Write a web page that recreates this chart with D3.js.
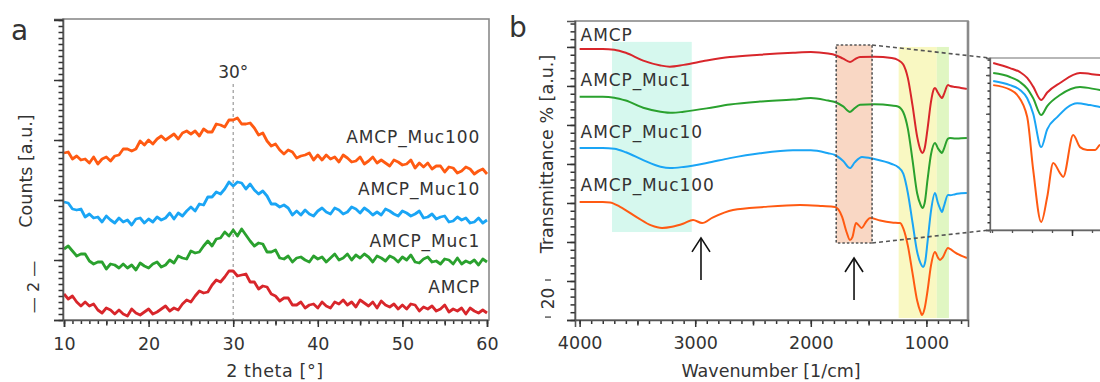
<!DOCTYPE html>
<html><head><meta charset="utf-8">
<script src="https://cdn.jsdelivr.net/npm/d3@7"></script>
<style>
body{margin:0;background:#fff}
svg{display:block}
text{font-family:"DejaVu Sans",sans-serif;fill:#333}
</style>
</head><body>
<svg id="c" width="1100" height="382"></svg>
<script>
// ---------------- DATA ----------------
// Panel a: XRD, 2 theta grid 10..60 step 0.5
const thetaGrid = d3.range(10, 60.001, 0.5);
const xrdAMCP = [26,21,24,18,14,18,14,16,10,7, 12,10,6,10,6,4,11,7,5,8, 11,6,8,11,14,9,12,10,16,20,
  18,24,29,27,28,35,40,38,43,49, 49,44,45,46,38,38,31,34,33,26, 24,19,22,22,15,15,18,12,15,16,
  12,18,14,12,18,16,20,15,18,13, 20,17,14,18,12,19,15,13,16,11, 15,11,16,15,9,13,11,14,9,11,
  15,8,11,9,12,6,12,9,7,10, 7];
const xrdMuc1 = [71,74,69,64,66,66,59,56,58,58, 51,56,55,52,56,52,55,50,57,54, 52,56,58,53,55,60,57,64,62,61,
  69,67,68,74,79,74,81,82,88,84, 90,84,91,85,79,74,77,76,68,68, 70,62,61,64,58,62,63,60,58,64,
  61,63,58,62,66,60,62,66,60,65, 62,66,63,58,64,62,59,64,62,58, 63,60,65,58,57,61,63,58,59,56,
  61,60,56,62,56,59,57,60,55,61, 58];
const xrdMuc10 = [118,117,111,110,111,103,106,102,103,98, 104,100,97,102,98,100,95,101,102,97,
  101,98,103,100,102,107,101,107,104,109, 113,109,116,115,123,123,128,126,131,138,
  134,138,137,131,136,130,126,129,124,116, 116,113,115,112,105,109,105,110,106,104,
  109,112,108,106,112,110,106,108,113,111, 107,112,109,105,108,105,111,109,106,104,
  109,107,104,106,109,102,103,106,101,103, 104,98,99,103,100,102,97,98,102,97, 100];
const xrdMuc100 = [167,168,161,164,160,161,157,163,156,161, 163,159,164,165,171,171,169,171,179,175,
  180,176,181,184,180,183,186,181,187,189, 186,189,184,191,188,188,196,195,193,200,
  200,202,196,196,197,192,185,187,179,174, 176,170,166,170,168,162,164,165,167,160,
  165,160,165,161,163,158,165,162,158,159, 163,156,159,163,157,160,157,154,160,158,
  155,156,160,152,157,153,157,151,154,154, 148,153,152,147,149,153,151,146,149,151, 146];
const xrdNames = ["AMCP","AMCP_Muc1","AMCP_Muc10","AMCP_Muc100"];
const xrdLabelLevels = [27, 73, 125, 177];
const xTicksA = [10,20,30,40,50,60];

// Panel b: FTIR [wavenumber, transmittance %]
const irAMCP = [[4000,139.0],[3800,139.0],[3700,138.6],[3600,137.0],[3450,133.0],[3300,130.5],[3220,129.9],
  [3100,130.8],[2900,133.0],[2700,134.8],[2440,136.0],[2154,137.0],[2000,137.4],[1850,136.6],[1791,135.9],
  [1720,134.0],[1661,132.3],[1620,133.6],[1574,134.9],[1450,135.0],[1300,134.3],[1246,133.3],[1200,131.0],
  [1160,124.0],[1120,110.0],[1080,94.0],[1050,87.0],[1035,85.6],[1015,88.0],[990,98.0],[960,112.0],
  [935,118.5],[926,119.0],[900,116.5],[870,114.0],[865,113.8],[850,115.5],[813,120.5],[796,120.0],
  [750,119.5],[700,119.0],[649,118.5]];
const irMuc1 = [[4000,114.4],[3800,114.4],[3700,114.0],[3600,112.5],[3450,108.8],[3300,106.8],[3195,106.2],
  [3100,106.8],[2900,108.5],[2700,110.5],[2440,112.0],[2154,113.0],[2000,113.8],[1850,112.5],[1791,111.8],
  [1720,109.5],[1661,106.7],[1620,108.6],[1574,110.3],[1450,110.6],[1300,110.0],[1246,109.5],[1200,106.5],
  [1160,98.0],[1120,82.0],[1080,65.0],[1050,59.0],[1035,57.4],[1015,60.0],[990,72.0],[960,85.0],
  [926,90.8],[900,88.0],[870,85.8],[865,85.6],[850,87.5],[813,93.0],[796,93.3],[750,93.0],[700,93.2],[649,93.3]];
const irMuc10 = [[4000,88.2],[3800,88.2],[3700,87.8],[3600,86.0],[3450,82.0],[3300,78.6],[3218,77.9],
  [3100,78.5],[2900,80.5],[2700,83.0],[2440,85.5],[2154,87.0],[2000,87.0],[1850,85.5],[1791,84.6],
  [1720,81.5],[1661,77.9],[1620,80.8],[1557,83.6],[1450,82.5],[1300,80.0],[1246,78.5],[1200,75.0],
  [1160,65.0],[1120,50.0],[1080,35.0],[1050,29.0],[1029,27.2],[1010,30.0],[990,40.0],[960,56.0],
  [926,65.1],[900,60.0],[870,55.8],[865,55.4],[850,58.0],[813,64.1],[796,64.0],[750,64.5],[700,65.0],[649,65.1]];
const irMuc100 = [[4000,60.5],[3800,60.5],[3737,60.3],[3650,58.0],[3500,52.5],[3380,48.5],[3287,47.2],
  [3200,47.8],[3100,49.5],[3019,51.3],[2941,49.7],[2850,52.5],[2673,56.4],[2400,58.0],[2093,59.0],
  [1900,58.4],[1791,57.9],[1730,53.0],[1690,45.0],[1661,41.0],[1640,42.5],[1609,49.7],[1592,49.0],
  [1560,47.2],[1520,50.5],[1488,52.3],[1400,51.0],[1300,50.0],[1228,49.7],[1200,47.0],[1160,38.0],
  [1120,24.0],[1080,10.0],[1050,4.0],[1038,2.6],[1015,6.0],[990,15.0],[960,28.0],[926,34.9],
  [900,32.0],[882,30.8],[860,32.0],[813,36.9],[796,36.5],[750,34.5],[700,33.0],[649,31.8]];
const irLabelLevels = [143.1, 120.0, 93.3, 66.2];
const xTicksB = [4000,3000,2000,1000];

// Inset (zoom of amide region) [wavenumber, a.u.]
const insAMCP = [[1797,86.2],[1755,83.6],[1730,81.5],[1712,78.5],[1697,74],[1677,67.1],[1662,71],
  [1630,75.9],[1580,81.0],[1530,80.0],[1460,79.5]];
const insMuc1 = [[1797,81.0],[1755,79.0],[1730,76.4],[1712,73],[1697,68],[1677,59.4],[1662,64],
  [1630,69.7],[1580,73.8],[1530,72.3],[1460,71.5]];
const insMuc10 = [[1797,76.9],[1755,74.8],[1730,72.3],[1712,68],[1697,60],[1677,42.8],[1662,52],
  [1637,58.3],[1587,65.5],[1555,64.5],[1530,63.5],[1460,62]];
const insMuc100 = [[1797,74.8],[1755,72.5],[1737,69.7],[1712,58.3],[1697,31.0],[1677,4.1],[1662,17.0],
  [1647,34.6],[1630,29.4],[1622,27.4],[1597,49.0],[1580,42.8],[1562,41.3],[1542,41.3],[1530,43.9],[1460,45]];

// Highlight bands [from, to, top, bottom]
const bandOH = [3720, 3030, 142.6, 45.1];
const bandAmide = [1780, 1470, 141, 39.5];
const bandPO = [1240, 910, 140, 1.0];
const bandPO2 = [910, 805, 140, 1.0];
const arrowsB = [[2950, 42.1, 20.5],[1626, 31.8, 10.3]];

const colors = ["#d8262b","#2aa12e","#1aa5f5","#ff5a12"];

// ---------------- DRAW ----------------
const svg = d3.select("#c");
const TICK = "#333";

function ticksAxis(g, axisFn, scale, vals, size){
  const ax = axisFn(scale).tickValues(vals).tickSize(size).tickFormat("");
  const s = g.append("g").call(ax);
  s.select(".domain").remove();
  s.selectAll(".tick line").attr("stroke",TICK).attr("stroke-width",1.5);
  return s;
}

// ===== Panel a =====
const xA = d3.scaleLinear().domain([10,60]).range([64,487]);
const yA = d3.scaleLinear().domain([0,301]).range([320,19]);
const gA = svg.append("g");

gA.append("line").attr("x1",xA(30)).attr("x2",xA(30)).attr("y1",yA(236)).attr("y2",yA(0))
  .attr("stroke","#999").attr("stroke-width",1.2).attr("stroke-dasharray","3,3");
gA.append("text").attr("x",xA(30)).attr("y",yA(242)).attr("text-anchor","middle")
  .attr("font-size",17).text("30°");

const xrdData = [xrdAMCP, xrdMuc1, xrdMuc10, xrdMuc100];
const lineA = d3.line().x((d,i)=>xA(thetaGrid[i])).y(d=>yA(d));
xrdData.forEach((s,k)=>{
  gA.append("path").datum(s).attr("d",lineA).attr("fill","none")
    .attr("stroke",colors[k]).attr("stroke-width",2.8).attr("stroke-linejoin","round");
});
xrdNames.forEach((n,k)=>{
  gA.append("text").attr("x",xA(59.2)).attr("y",yA(xrdLabelLevels[k])).attr("text-anchor","end")
    .attr("font-size",17).attr("letter-spacing",0.9).text(n);
});

gA.append("rect").attr("x",63).attr("y",19).attr("width",426).attr("height",301)
  .attr("fill","none").attr("stroke","#8a8a8a").attr("stroke-width",1.6);

const gAx = gA.append("g").attr("transform","translate(0,320)");
ticksAxis(gAx, d3.axisBottom, xA, d3.range(10,60.1,1), 4);
ticksAxis(gAx, d3.axisBottom, xA, d3.range(15,60,10), 5.5);
const ga = gAx.append("g").call(d3.axisBottom(xA).tickValues(xTicksA).tickSize(7).tickPadding(11).tickFormat(d3.format("d")));
ga.select(".domain").attr("stroke","#555").attr("stroke-width",1.6);
ga.selectAll(".tick line").attr("stroke",TICK).attr("stroke-width",1.5);
ga.selectAll("text").attr("font-size",17.5).attr("fill","#333").attr("font-family","DejaVu Sans");

const gAy = gA.append("g").attr("transform","translate(63,0)");
ticksAxis(gAy, d3.axisLeft, yA, d3.range(0,301,6), 4.5);
const gay = gAy.append("g").call(d3.axisLeft(yA).tickValues(d3.range(0,301,60)).tickSize(9).tickFormat(""));
gay.select(".domain").attr("stroke","#555").attr("stroke-width",1.6);
gay.selectAll(".tick line").attr("stroke",TICK).attr("stroke-width",1.5);

gA.append("text").attr("x",275).attr("y",377).attr("text-anchor","middle").attr("font-size",17.5)
  .attr("letter-spacing",0.6).text("2 theta [°]");
gA.append("text").attr("transform",`translate(32,171) rotate(-90)`).attr("text-anchor","middle")
  .attr("font-size",17.5).text("Counts [a.u.]");
gA.append("text").attr("transform",`translate(39,${yA(33)}) rotate(-90)`).attr("text-anchor","middle")
  .attr("font-size",16).text("— 2 —");
svg.append("text").attr("x",11).attr("y",40).attr("font-size",28).attr("fill","#222").text("a");

// ===== Panel b =====
const xB = d3.scaleLinear().domain([4040,640]).range([575,968]);
const yB = d3.scaleLinear().domain([0,153.3]).range([320,21]);
const gB = svg.append("g");

function band(b, fill){
  gB.append("rect").attr("x",xB(b[0])).attr("y",yB(b[2]))
    .attr("width",xB(b[1])-xB(b[0])).attr("height",yB(b[3])-yB(b[2])).attr("fill",fill);
}
band(bandOH,"#d6f8ee");
band(bandAmide,"#f9d7c4");
band(bandPO,"#f9f8c2");
band(bandPO2,"#e0f6c2");

const irData = [irAMCP, irMuc1, irMuc10, irMuc100];
const lineB = d3.line().x(d=>xB(d[0])).y(d=>yB(d[1])).curve(d3.curveMonotoneX);
irData.forEach((s,k)=>{
  gB.append("path").datum(s).attr("d",lineB).attr("fill","none")
    .attr("stroke",colors[k]).attr("stroke-width",2).attr("stroke-linejoin","round");
});

gB.append("rect").attr("x",xB(bandAmide[0])).attr("y",yB(bandAmide[2]))
  .attr("width",xB(bandAmide[1])-xB(bandAmide[0])).attr("height",yB(bandAmide[3])-yB(bandAmide[2]))
  .attr("fill","none").attr("stroke","#555").attr("stroke-width",1.6).attr("stroke-dasharray","2.5,2");

xrdNames.forEach((n,k)=>{
  gB.append("text").attr("x",xB(4000)+1).attr("y",yB(irLabelLevels[k]))
    .attr("font-size",17).attr("letter-spacing",0.9).text(n);
});

arrowsB.forEach(a=>{
  const x = xB(a[0]), yt = yB(a[1]), yb = yB(a[2]);
  gB.append("line").attr("x1",x).attr("x2",x).attr("y1",yt).attr("y2",yb).attr("stroke","#111").attr("stroke-width",1.6);
  gB.append("path").attr("d",`M${x-9},${yt+14}L${x},${yt}L${x+9},${yt+14}`).attr("fill","none")
    .attr("stroke","#111").attr("stroke-width",1.6);
});

gB.append("rect").attr("x",575).attr("y",21).attr("width",393).attr("height",299)
  .attr("fill","none").attr("stroke","#8a8a8a").attr("stroke-width",1.6);
gB.append("line").attr("x1",968).attr("x2",968).attr("y1",21).attr("y2",320).attr("stroke","#8a8a8a").attr("stroke-width",2.6);

const gBx = gB.append("g").attr("transform","translate(0,320)");
ticksAxis(gBx, d3.axisBottom, xB, d3.range(700,4001,100), 4);
ticksAxis(gBx, d3.axisBottom, xB, [3500,2500,1500], 5.5);
const gbx = gBx.append("g").call(d3.axisBottom(xB).tickValues(xTicksB).tickSize(7).tickPadding(10).tickFormat(d3.format("d")));
gbx.select(".domain").attr("stroke","#555").attr("stroke-width",1.6);
gbx.selectAll(".tick line").attr("stroke",TICK).attr("stroke-width",1.5);
gbx.selectAll("text").attr("font-size",17.5).attr("fill","#333").attr("font-family","DejaVu Sans");

const gBy = gB.append("g").attr("transform","translate(575,0)");
ticksAxis(gBy, d3.axisLeft, yB, d3.range(0,153,4), 4.5);
const gby = gBy.append("g").call(d3.axisLeft(yB).tickValues(d3.range(0,153,20)).tickSize(8).tickFormat(""));
gby.select(".domain").attr("stroke","#555").attr("stroke-width",1.6);
gby.selectAll(".tick line").attr("stroke",TICK).attr("stroke-width",1.5);

[20.5, 1.5].forEach(v=>{
  gB.append("line").attr("x1",545).attr("x2",551).attr("y1",yB(v)).attr("y2",yB(v)).attr("stroke","#444").attr("stroke-width",1.3);
});
gB.append("text").attr("transform",`translate(554,${yB(11)}) rotate(-90)`).attr("text-anchor","middle")
  .attr("font-size",17).text("20");

gB.append("text").attr("x",771).attr("y",377).attr("text-anchor","middle").attr("font-size",17.5).text("Wavenumber [1/cm]");
gB.append("text").attr("transform",`translate(553,154) rotate(-90)`).attr("text-anchor","middle")
  .attr("font-size",17.5).text("Transmittance % [a.u.]");
svg.append("text").attr("x",509).attr("y",37).attr("font-size",28).attr("fill","#222").text("b");

// ===== Inset =====
const xI = d3.scaleLinear().domain([1805,1450]).range([990,1132]);
const yI = d3.scaleLinear().domain([0,88.8]).range([230,58]);
const gI = svg.append("g");
gI.append("line").attr("x1",xB(bandAmide[1])).attr("y1",yB(bandAmide[2])).attr("x2",990).attr("y2",yI(88.8))
  .attr("stroke","#555").attr("stroke-width",1.6).attr("stroke-dasharray","4,3");
gI.append("line").attr("x1",xB(bandAmide[1])).attr("y1",yB(bandAmide[3])).attr("x2",990).attr("y2",yI(0))
  .attr("stroke","#555").attr("stroke-width",1.6).attr("stroke-dasharray","4,3");
gI.append("rect").attr("x",990).attr("y",58).attr("width",140).attr("height",172)
  .attr("fill","#fff").attr("stroke","#999").attr("stroke-width",1.4);
const insData = [insAMCP, insMuc1, insMuc10, insMuc100];
const lineI = d3.line().x(d=>xI(d[0])).y(d=>yI(d[1])).curve(d3.curveMonotoneX);
insData.forEach((s,k)=>{
  gI.append("path").datum(s).attr("d",lineI).attr("fill","none")
    .attr("stroke",colors[k]).attr("stroke-width",2).attr("stroke-linejoin","round");
});
const gIy = gI.append("g").attr("transform","translate(990,0)");
ticksAxis(gIy, d3.axisLeft, yI, d3.range(0,89,4), 2.5);
const giy = gIy.append("g").call(d3.axisLeft(yI).tickValues(d3.range(0,89,20)).tickSize(4).tickFormat(""));
giy.select(".domain").attr("stroke","#666").attr("stroke-width",1.3);
giy.selectAll(".tick line").attr("stroke","#555").attr("stroke-width",1.3);
const gIx = gI.append("g").attr("transform","translate(0,230)");
const gix = gIx.append("g").call(d3.axisBottom(xI).tickValues(d3.range(1800,1450,-50)).tickSize(3).tickFormat(""));
gix.select(".domain").attr("stroke","#666").attr("stroke-width",1.3);
gix.selectAll(".tick line").attr("stroke","#555").attr("stroke-width",1.3);
ticksAxis(gIx, d3.axisBottom, xI, [1600], 6);
</script>
</body></html>
